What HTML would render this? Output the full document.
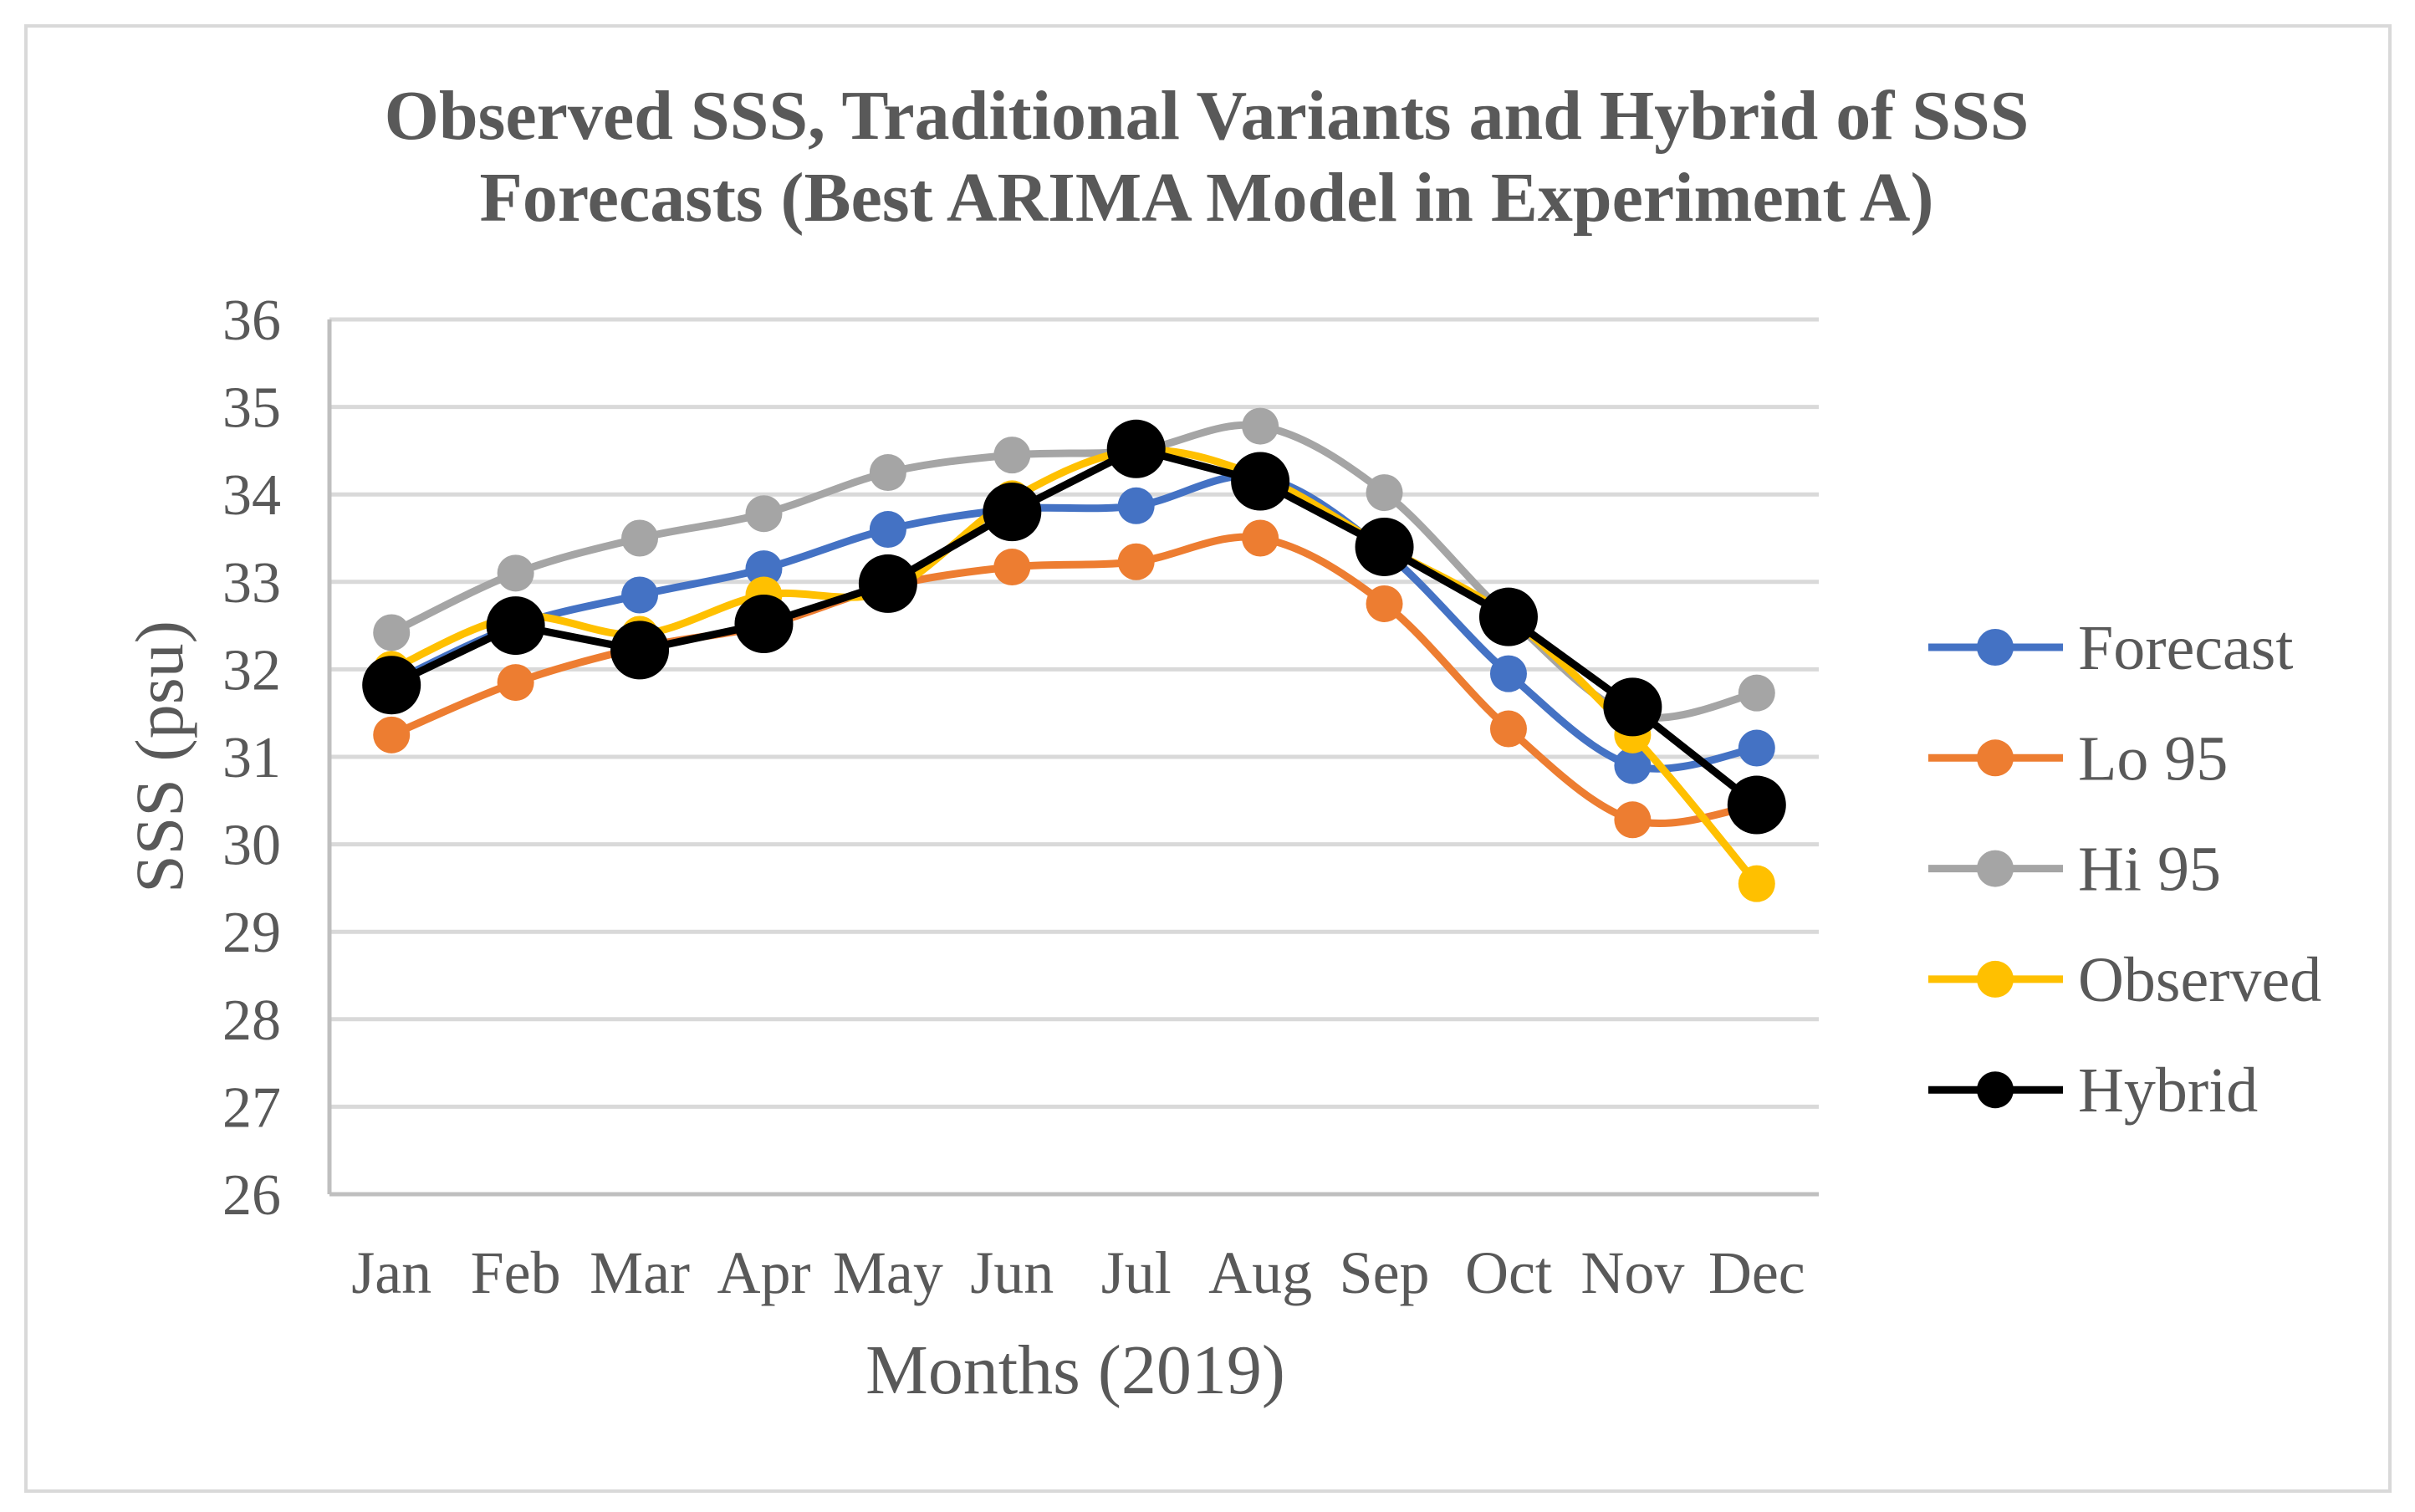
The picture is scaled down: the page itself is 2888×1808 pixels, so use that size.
<!DOCTYPE html>
<html><head><meta charset="utf-8"><style>
html,body{margin:0;padding:0;background:#fff;}
svg{display:block;font-family:"Liberation Serif",serif;}
</style></head><body>
<svg id="chart" width="2888" height="1808" viewBox="0 0 2888 1808">
<rect x="31" y="31" width="2827" height="1752" fill="#fff" stroke="#d9d9d9" stroke-width="4"/>
<text x="1443" y="166" text-anchor="middle" font-size="84" font-weight="bold" fill="#595959">Observed SSS, Traditional Variants and Hybrid of SSS</text>
<text x="1443" y="264" text-anchor="middle" font-size="84" font-weight="bold" fill="#595959">Forecasts (Best ARIMA Model in Experiment A)</text>
<g id="grid"></g>
<g id="series"></g>
<text x="0" y="0" transform="translate(218,905) rotate(-90)" text-anchor="middle" font-size="82" fill="#595959">SSS (psu)</text>
<text x="1286" y="1666" text-anchor="middle" font-size="84" fill="#595959">Months (2019)</text>
<g id="legend"></g>
</svg>
<script>
const months=["Jan","Feb","Mar","Apr","May","Jun","Jul","Aug","Sep","Oct","Nov","Dec"];
const yTicks=[26,27,28,29,30,31,32,33,34,35,36];
const forecast=[31.85,32.5,32.85,33.15,33.6,33.83,33.87,34.2,33.35,31.95,30.9,31.1];
const lo95=[31.25,31.85,32.25,32.5,32.95,33.17,33.23,33.5,32.75,31.32,30.28,30.45];
const hi95=[32.42,33.1,33.5,33.78,34.25,34.45,34.5,34.78,34.02,32.6,31.48,31.73];
const observed=[32.0,32.6,32.4,32.85,32.9,33.95,34.5,34.2,33.4,32.6,31.25,29.55];
const hybrid=[31.82,32.5,32.22,32.52,32.98,33.8,34.52,34.15,33.4,32.6,31.57,30.45];
const seriesNames=["Forecast","Lo 95","Hi 95","Observed","Hybrid"];

const NS="http://www.w3.org/2000/svg";
const L=394,R=2175,T=382,B=1428,ymin=26,ymax=36;
const step=(R-L)/months.length;
function xS(i){return L+step*(i+0.5);}
function yS(v){return B-(v-ymin)/(ymax-ymin)*(B-T);}
function mk(tag,attrs,parent){const e=document.createElementNS(NS,tag);for(const k in attrs)e.setAttribute(k,attrs[k]);parent.appendChild(e);return e;}
const grid=document.getElementById('grid');
yTicks.forEach(t=>{
  if(t!==ymin){const g=mk('line',{x1:L,x2:R,y1:yS(t),y2:yS(t),stroke:'#d9d9d9','stroke-width':5},grid);
  
  }
  const tx=mk('text',{x:336,y:yS(t)+24,'text-anchor':'end','font-size':70,fill:'#595959'},grid);
  tx.textContent=t;
  
  
});
const ax=mk('line',{x1:L,x2:R,y1:B,y2:B,stroke:'#bfbfbf','stroke-width':5},grid);


const ay=mk('line',{x1:L,x2:L,y1:T,y2:B,stroke:'#bfbfbf','stroke-width':5},grid);


months.forEach((m,i)=>{
  const tx=mk('text',{x:xS(i),y:1546,'text-anchor':'middle','font-size':72,fill:'#595959'},grid);
  tx.textContent=m;
  
  
});
function smoothPath(pts){
  let d='M'+pts[0][0]+','+pts[0][1];
  for(let i=0;i<pts.length-1;i++){
    const p0=pts[i-1]||pts[i],p1=pts[i],p2=pts[i+1],p3=pts[i+2]||p2;
    const c1=[p1[0]+(p2[0]-p0[0])/6,p1[1]+(p2[1]-p0[1])/6];
    const c2=[p2[0]-(p3[0]-p1[0])/6,p2[1]-(p3[1]-p1[1])/6];
    d+=' C'+c1+' '+c2+' '+p2;
  }
  return d;
}
const cfg=[
 {data:forecast,color:'#4472c4',w:9,r:22,smooth:true,key:'forecast'},
 {data:lo95,color:'#ed7d31',w:9,r:22,smooth:true,key:'lo95'},
 {data:hi95,color:'#a5a5a5',w:9,r:22,smooth:true,key:'hi95'},
 {data:observed,color:'#ffc000',w:9,r:22,smooth:true,key:'observed'},
 {data:hybrid,color:'#000000',w:9,r:35,smooth:false,key:'hybrid'}
];
const sg=document.getElementById('series');
cfg.forEach(c=>{
  const g=mk('g',{},sg);
  
  
  const pts=c.data.map((v,i)=>[xS(i),yS(v)]);
  const d=c.smooth?smoothPath(pts):'M'+pts.map(p=>p.join(',')).join(' L');
  const p=mk('path',{d:d,fill:'none',stroke:c.color,'stroke-width':c.w,'stroke-linejoin':'round'},g);
  
  
  pts.forEach((pt,i)=>{
    const ci=mk('circle',{cx:pt[0],cy:pt[1],r:c.r,fill:c.color},g);
    
    
  });
});
const lg=document.getElementById('legend');
cfg.forEach((c,i)=>{
  const y=774+i*132.3;
  const g=mk('g',{},lg);
  
  
  mk('line',{x1:2306,x2:2467,y1:y,y2:y,stroke:c.color,'stroke-width':c.w},g);
  mk('circle',{cx:2386,cy:y,r:22,fill:c.color},g);
  const t=mk('text',{x:2485,y:y+26,'font-size':76,fill:'#595959'},g);
  t.textContent=seriesNames[i];
});
</script>
</body></html>
